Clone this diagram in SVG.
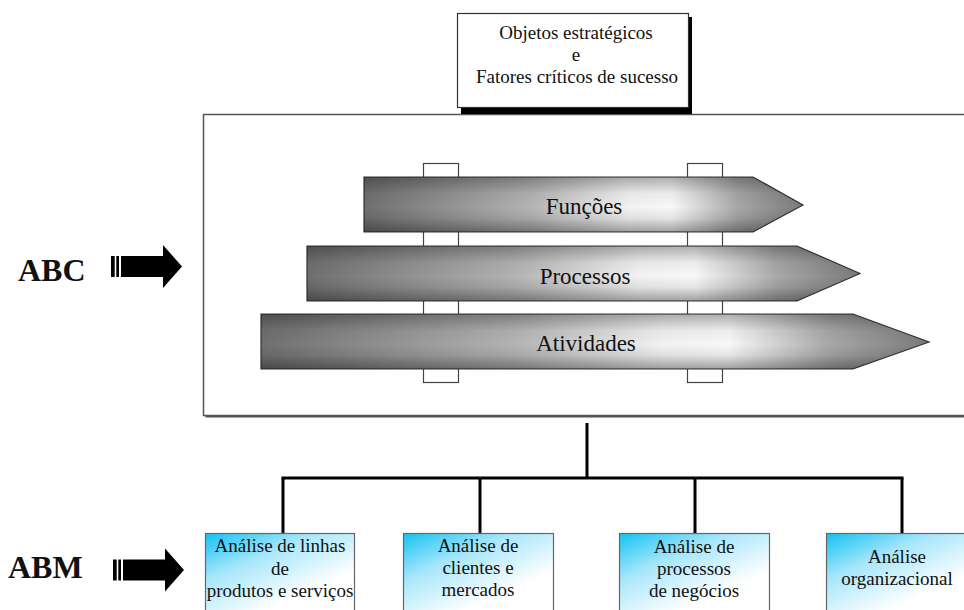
<svg xmlns="http://www.w3.org/2000/svg" width="964" height="610" viewBox="0 0 964 610">
  <defs>
    <style>
      .lbl { font-family: "Liberation Serif", "Times New Roman", serif; fill: #111; text-anchor: middle; }
      .top { font-size: 19px; }
      .band { font-size: 23px; }
      .box { font-size: 19px; }
      .side { font-family: "Liberation Serif", "Times New Roman", serif; font-weight: bold; font-size: 32px; fill: #111; }
      .post { fill: #fff; stroke: #444; stroke-width: 1.2; }
      .band-shape { stroke: #333; stroke-width: 1.2; }
      .conn { stroke: #000; stroke-width: 3; fill: none; }
      .abm-box { fill: url(#cyanFade); stroke: #666; stroke-width: 1.2; }
    </style>
    <!-- horizontal metallic shading for the three bands -->
    <linearGradient id="metal" x1="0" y1="0" x2="1" y2="0">
      <stop offset="0" stop-color="#6f6f6f"/>
      <stop offset="0.38" stop-color="#b4b4b4"/>
      <stop offset="0.6" stop-color="#f2f2f2"/>
      <stop offset="0.7" stop-color="#f8f8f8"/>
      <stop offset="0.85" stop-color="#a8a8a8"/>
      <stop offset="1" stop-color="#7a7a7a"/>
    </linearGradient>
    <!-- darker top and bottom edges of the bands -->
    <linearGradient id="edge" x1="0" y1="0" x2="0" y2="1">
      <stop offset="0" stop-color="#000" stop-opacity="0.3"/>
      <stop offset="0.3" stop-color="#000" stop-opacity="0.05"/>
      <stop offset="0.55" stop-color="#000" stop-opacity="0"/>
      <stop offset="0.75" stop-color="#000" stop-opacity="0.08"/>
      <stop offset="1" stop-color="#000" stop-opacity="0.35"/>
    </linearGradient>
    <!-- cyan corner fading to white for the analysis boxes -->
    <linearGradient id="cyanFade" x1="0" y1="0" x2="0.55" y2="0.75">
      <stop offset="0" stop-color="#12c2f2"/>
      <stop offset="0.45" stop-color="#a6e6fa"/>
      <stop offset="1" stop-color="#ffffff"/>
    </linearGradient>
    <g id="bigArrow">
      <rect x="0" y="11" width="3.7" height="21" fill="#000"/>
      <rect x="5.3" y="11" width="2.7" height="21" fill="#000"/>
      <polygon points="10,11 52,11 52,0 71,21.5 52,43 52,32 10,32" fill="#000"/>
    </g>
  </defs>

  <rect width="964" height="610" fill="#fff"/>

  <!-- main ABC frame -->
  <g id="abc-frame">
    <rect x="205.5" y="116.5" width="770" height="301" fill="#555"/>
    <rect x="203.5" y="114.5" width="770" height="301" fill="#fff" stroke="#555" stroke-width="1.5"/>
  </g>

  <!-- strategic objectives box -->
  <g id="objetivos">
    <rect x="461" y="17" width="231" height="97" fill="#000"/>
    <rect x="457.5" y="13.5" width="231" height="94" fill="#fff" stroke="#333" stroke-width="1.2"/>
    <text class="lbl top" x="576" y="39">Objetos estratégicos</text>
    <text class="lbl top" x="576" y="61">e</text>
    <text class="lbl top" x="577" y="83"> Fatores críticos de sucesso</text>
  </g>

  <!-- vertical posts behind the bands -->
  <g id="posts">
    <rect class="post" x="423.5" y="163.5" width="35" height="219"/>
    <rect class="post" x="687.5" y="163.5" width="35" height="219"/>
  </g>

  <g id="funcoes">
    <polygon class="band-shape" fill="url(#metal)" points="364,177 753,177 803,205 753,232 364,232"/>
    <polygon fill="url(#edge)" points="364,177 753,177 803,205 753,232 364,232"/>
    <text class="lbl band" x="584" y="214">Funções</text>
  </g>

  <g id="processos">
    <polygon class="band-shape" fill="url(#metal)" points="307,246 797,246 860,273.5 797,301 307,301"/>
    <polygon fill="url(#edge)" points="307,246 797,246 860,273.5 797,301 307,301"/>
    <text class="lbl band" x="585" y="284">Processos</text>
  </g>

  <g id="atividades">
    <polygon class="band-shape" fill="url(#metal)" points="261,314 853,314 929,342 853,369 261,369"/>
    <polygon fill="url(#edge)" points="261,314 853,314 929,342 853,369 261,369"/>
    <text class="lbl band" x="586" y="351">Atividades</text>
  </g>

  <!-- side labels -->
  <g id="abc-label">
    <text class="side" x="18" y="281">ABC</text>
    <use href="#bigArrow" x="111" y="245"/>
  </g>
  <g id="abm-label">
    <text class="side" x="8" y="578">ABM</text>
    <use href="#bigArrow" x="113" y="548.5"/>
  </g>

  <!-- tree connectors -->
  <g id="connectors">
    <path class="conn" d="M587,423 V478"/>
    <path class="conn" d="M281.5,478 H903.5"/>
    <path class="conn" d="M283,478 V533"/>
    <path class="conn" d="M480,478 V533"/>
    <path class="conn" d="M695,478 V533"/>
    <path class="conn" d="M902,478 V533"/>
  </g>

  <!-- analysis boxes -->
  <g id="linhas">
    <rect class="abm-box" x="205.5" y="533.5" width="149" height="90"/>
    <text class="lbl box" x="280" y="552">Análise de linhas</text>
    <text class="lbl box" x="280" y="575">de</text>
    <text class="lbl box" x="280" y="597">produtos e serviços</text>
  </g>
  <g id="clientes">
    <rect class="abm-box" x="403.5" y="533.5" width="150" height="90"/>
    <text class="lbl box" x="478" y="552">Análise de</text>
    <text class="lbl box" x="478" y="574">clientes e</text>
    <text class="lbl box" x="478" y="596">mercados</text>
  </g>
  <g id="processos-negocio">
    <rect class="abm-box" x="619.5" y="533.5" width="150" height="90"/>
    <text class="lbl box" x="694" y="553">Análise de</text>
    <text class="lbl box" x="694" y="575">processos</text>
    <text class="lbl box" x="694" y="597">de negócios</text>
  </g>
  <g id="organizacional">
    <rect class="abm-box" x="826.5" y="533.5" width="150" height="90"/>
    <text class="lbl box" x="897" y="563">Análise</text>
    <text class="lbl box" x="897" y="585">organizacional</text>
  </g>
</svg>
